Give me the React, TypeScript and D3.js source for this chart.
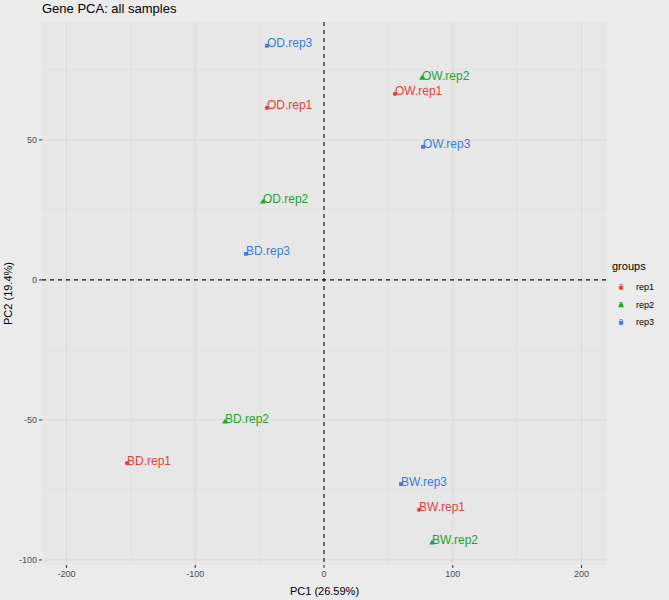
import { useMemo } from 'react'
import * as d3 from 'd3'

const samples = ['OD.rep3', 'OD.rep1', 'OD.rep2', 'BD.rep3', 'OW.rep2', 'OW.rep1', 'OW.rep3', 'BD.rep2', 'BD.rep1', 'BW.rep3', 'BW.rep1', 'BW.rep2']
const groupOf = ['rep3', 'rep1', 'rep2', 'rep3', 'rep2', 'rep1', 'rep3', 'rep2', 'rep1', 'rep3', 'rep1', 'rep2']
const pc1 = [-44.3, -44.3, -47.4, -60.6, 76.1, 55.1, 76.9, -76.9, -153, 59.8, 73.8, 83.9]
const pc2 = [83.6, 61.4, 27.9, 9.3, 72.1, 66.4, 47.5, -50.7, -65.4, -72.9, -82.1, -93.9]

const groups = ['rep1', 'rep2', 'rep3']
const groupColors = ['#E5403A', '#1FA527', '#3B7DDD']
const xTicks = [-200, -100, 0, 100, 200]
const yTicks = [-100, -50, 0, 50]
const xMinor = [-150, -50, 50, 150]
const yMinor = [-75, -25, 25, 75]

const W = 669
const H = 600
const FONT = 'Liberation Sans, Arial, Helvetica, sans-serif'

export default function App() {
  const margin = { top: 22, right: 62, bottom: 35, left: 42 }
  const x = useMemo(() => d3.scaleLinear().domain([-219, 219.8]).range([margin.left, W - margin.right]), [])
  const y = useMemo(() => d3.scaleLinear().domain([-101.8, 92.1]).range([H - margin.bottom, margin.top]), [])
  const color = d3.scaleOrdinal<string, string>().domain(groups).range(groupColors)
  const shape = d3.scaleOrdinal<string, d3.SymbolType>().domain(groups).range([d3.symbolCircle, d3.symbolTriangle, d3.symbolSquare])
  const sym = (g: string, size: number) => d3.symbol().type(shape(g)).size(size)() || ''

  const [x0, x1] = x.range()
  const [y0, y1] = y.range()

  return (
    <svg width={W} height={H} style={{ display: 'block', position: 'absolute', left: 0, top: 0 }}>
      <rect x={0} y={0} width={W} height={H} fill="#EBEBEB" />
      <rect x={x0} y={y1} width={x1 - x0} height={y0 - y1} fill="#E7E7E7" />

      {/* grid */}
      {xMinor.map(t => (
        <line key={'xm' + t} x1={x(t)} x2={x(t)} y1={y1} y2={y0} stroke="#DEDEDE" strokeWidth={0.6} />
      ))}
      {yMinor.map(t => (
        <line key={'ym' + t} x1={x0} x2={x1} y1={y(t)} y2={y(t)} stroke="#DEDEDE" strokeWidth={0.6} />
      ))}
      {xTicks.map(t => (
        <line key={'xg' + t} x1={x(t)} x2={x(t)} y1={y1} y2={y0} stroke="#DADADA" strokeWidth={1} />
      ))}
      {yTicks.map(t => (
        <line key={'yg' + t} x1={x0} x2={x1} y1={y(t)} y2={y(t)} stroke="#DADADA" strokeWidth={1} />
      ))}

      {/* zero lines */}
      <line x1={x(0)} x2={x(0)} y1={y1} y2={y0} stroke="#111" strokeWidth={1.1} strokeDasharray="4,4" />
      <line x1={x0} x2={x1} y1={y(0)} y2={y(0)} stroke="#111" strokeWidth={1.1} strokeDasharray="4,4" />

      {/* points and labels */}
      {samples.map((s, i) => (
        <g key={s}>
          <path d={sym(groupOf[i], 14)} transform={`translate(${x(pc1[i])},${y(pc2[i])})`} fill={color(groupOf[i])} />
          <text x={x(pc1[i])} y={y(pc2[i]) + 1.5} fill={color(groupOf[i])} fontSize={12} fontFamily={FONT}>{s}</text>
        </g>
      ))}

      {/* x axis */}
      {xTicks.map(t => (
        <g key={'xt' + t}>
          <line x1={x(t)} x2={x(t)} y1={y0} y2={y0 + 3} stroke="#333" />
          <text x={x(t)} y={y0 + 12} textAnchor="middle" fill="#4D4D4D" fontSize={9} fontFamily={FONT}>{t}</text>
        </g>
      ))}
      {/* y axis */}
      {yTicks.map(t => (
        <g key={'yt' + t}>
          <line x1={x0 - 3} x2={x0} y1={y(t)} y2={y(t)} stroke="#333" />
          <text x={x0 - 5} y={y(t) + 3} textAnchor="end" fill="#4D4D4D" fontSize={9} fontFamily={FONT}>{t}</text>
        </g>
      ))}

      <text x={(x0 + x1) / 2} y={H - 5} textAnchor="middle" fontSize={11} fontFamily={FONT} fill="#000">PC1 (26.59%)</text>
      <text transform={`translate(12,${(y0 + y1) / 2}) rotate(-90)`} textAnchor="middle" fontSize={11} fontFamily={FONT} fill="#000">PC2 (19.4%)</text>
      <text x={x0} y={13} fontSize={13} fontFamily={FONT} fill="#000">Gene PCA: all samples</text>

      {/* legend */}
      <text x={612} y={270} fontSize={11} fontFamily={FONT} fill="#000">groups</text>
      {groups.map((g, i) => {
        const ly = 287 + i * 17.5
        return (
          <g key={'lg' + g}>
            <path d={sym(g, 14)} transform={`translate(621,${ly + 1})`} fill={color(g)} />
            <text x={621} y={ly + 2} textAnchor="middle" fontSize={9} fontFamily={FONT} fill={color(g)}>a</text>
            <text x={636} y={ly + 3} fontSize={9} fontFamily={FONT} fill="#000">{g}</text>
          </g>
        )
      })}
    </svg>
  )
}
